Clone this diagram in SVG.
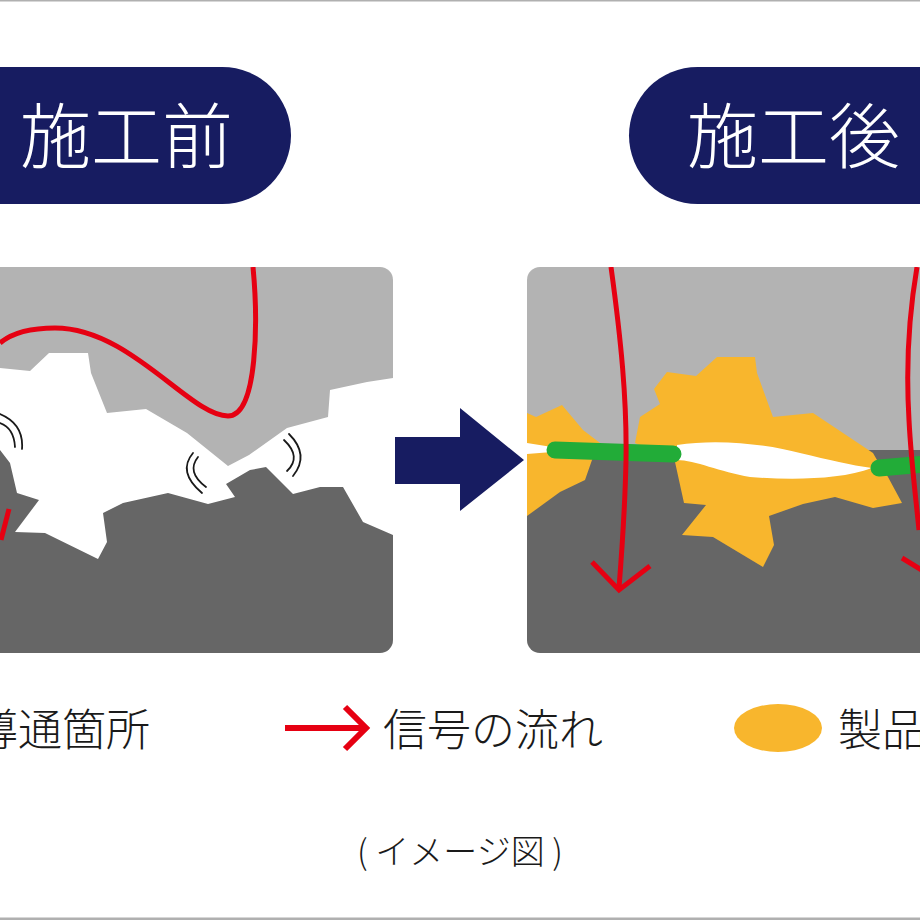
<svg xmlns="http://www.w3.org/2000/svg" width="920" height="920" viewBox="0 0 920 920">
  <style>
    .jp { font-family: "Noto Sans CJK JP", "Noto Sans", sans-serif; font-weight: 300; }
    .title { font-size: 71px; fill: #fff; }
    .legend { font-size: 44px; fill: #1a1a1a; }
    .note { font-size: 34px; fill: #1a1a1a; }
    .pill { fill: #171c61; }
    .upper { fill: #b3b3b3; }
    .lower { fill: #666; }
    .resin { fill: #f8b62d; }
    .signal { fill: none; stroke: #e60012; stroke-width: 5; }
    .wave { fill: none; stroke: #1a1a1a; stroke-width: 1.8; stroke-linecap: round; }
    .contact { fill: none; stroke: #22ac38; stroke-width: 17; stroke-linecap: round; }
  </style>
  <defs>
    <clipPath id="panelA"><rect x="-30" y="267" width="423" height="386" rx="13"/></clipPath>
    <clipPath id="panelB"><rect x="527" y="267" width="423" height="386" rx="13"/></clipPath>
  </defs>
  <rect width="920" height="920" fill="#fff"/>
  <rect width="920" height="1.5" fill="#b0b0b0"/>
  <rect y="917.5" width="920" height="2.5" fill="#b0b0b0"/>

  <g id="badge-before">
    <rect class="pill" x="-80" y="67" width="371" height="137" rx="68.5"/>
    <text class="jp title" x="20" y="162">施工前</text>
  </g>
  <g id="badge-after">
    <rect class="pill" x="629" y="67" width="371" height="137" rx="68.5"/>
    <text class="jp title" x="687" y="162">施工後</text>
  </g>

  <g id="panel-before" clip-path="url(#panelA)">
    <rect class="upper" x="-30" y="267" width="423" height="200"/>
    <path fill="#fff" d="M-30 366L0 368L30 371L49 353L88 353L91 373L107 413L146 409L187 433L228 466L249 455L287 428L328 417L330 390L367 382L393 378V560H-30Z"/>
    <path class="lower" d="M-30 440L0 450L10 463L17 493L39 500L15 532L45 533L98 559L107 542L103 513L123 503L168 493L208 504L235 497L226 484L250 470L266 467L293 494L320 487L343 487L363 522L393 535V653H-30Z"/>
    <path class="signal" d="M253 267C258 320 258 416 228 416C190 416 130 328 55 328C30 328 12 333 0 343"/>
    <path class="signal" d="M9 509L1 540"/>
    <path class="wave" d="M0 423Q14 428 15 447M0 414Q24 424 22 449"/>
    <path class="wave" d="M198 457Q186 472 206 487M193 453Q177 472 202 493"/>
    <path class="wave" d="M284 440Q302 457 287 471M289 434Q310 455 293 476"/>
  </g>

  <g id="transition-arrow">
    <path class="pill" d="M395 437H460V408L524 460L460 511V484H395Z"/>
  </g>

  <g id="panel-after" clip-path="url(#panelB)">
    <rect class="upper" x="527" y="267" width="423" height="200"/>
    <rect class="lower" x="527" y="450" width="423" height="203"/>
    <path class="resin" d="M527 413L536 417L562 405L583 430L600 443L592 460L585 480L560 492L527 516Z"/>
    <path class="resin" d="M635 443L640 417L660 404L654 389L667 372L696 376L717 357L755 357L757 373L773 417L813 413L873 453L877 460L888 477L902 503L873 508L835 497L803 504L769 516L774 545L763 567L713 537L682 535L706 505L684 503L675 462Z"/>
    <path fill="#fff" d="M677 445C720 438 770 445 800 453C830 460 850 465 872 468C840 480 790 480 750 477C720 472 695 460 677 460Z"/>
    <path fill="#fff" d="M527 443L552 447V452L527 454Z"/>
    <path class="upper" d="M600 443H635L634 446H598Z"/>
    <path class="contact" d="M555 450L673 454"/>
    <path class="contact" d="M879 468L925 464"/>
    <path class="signal" d="M611 267C621 340 627 400 626 460C625 510 622 550 619 588"/>
    <path class="signal" d="M592 562L619 590L650 566"/>
    <path class="signal" d="M917 267C908 320 906 370 909 420C911 460 915 490 919 530"/>
    <path class="signal" d="M902 558L925 572"/>
  </g>

  <g id="legend-contact">
    <text class="jp legend" x="150" y="746" text-anchor="end">導通箇所</text>
  </g>
  <g id="legend-signal">
    <path class="signal" stroke-width="6" style="stroke-width:6" d="M285 728H366M345 707L366 728L345 749"/>
    <text class="jp legend" x="383" y="746">信号の流れ</text>
  </g>
  <g id="legend-resin">
    <ellipse class="resin" cx="778" cy="728" rx="44" ry="24"/>
    <text class="jp legend" x="838" y="746">製品</text>
  </g>
  <text class="jp note" x="460" y="864" text-anchor="middle" xml:space="preserve">( イメージ図 )</text>
</svg>
